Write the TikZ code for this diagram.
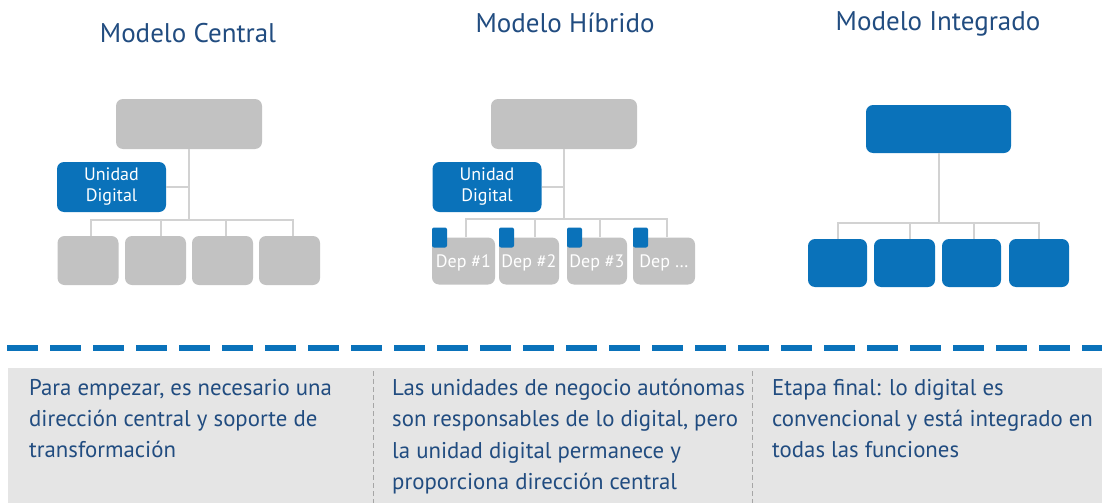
\documentclass[tikz,border=0pt]{standalone}
\usepackage{fontspec}
\setmainfont{PT Sans}
\usepackage{tikz}
\usetikzlibrary{positioning}

\definecolor{orgblue}{HTML}{0A72BA}
\definecolor{orggray}{HTML}{C2C2C2}
\definecolor{linegray}{HTML}{D2D2D2}
\definecolor{panelgray}{HTML}{E5E5E5}
\definecolor{textnavy}{HTML}{214C80}

\tikzset{
    graybox/.style={rectangle, rounded corners=7pt, fill=orggray, inner sep=0pt},
    bluebox/.style={rectangle, rounded corners=7pt, fill=orgblue, inner sep=0pt},
    unitbox/.style={bluebox, minimum width=109pt, minimum height=50pt, text=white, align=center,
        font=\fontsize{18}{21}\selectfont},
    tabbox/.style={rectangle, rounded corners=2pt, fill=orgblue, minimum width=15pt, minimum height=20pt, inner sep=0pt},
    deplabel/.style={text=white, font=\fontsize{18}{20}\selectfont},
    title/.style={text=textnavy, font=\fontsize{27}{30}\selectfont, anchor=base, inner sep=0pt},
    caption/.style={text=textnavy, font=\fontsize{22.8}{31.2}\selectfont, align=left, anchor=north west, inner sep=0pt},
    link/.style={draw=linegray, line width=2pt}
}

\begin{document}
\begin{tikzpicture}[x=1pt, y=-1pt]
        \useasboundingbox (0,0) rectangle (1102,503);

        % Titles
        \node[title] (tcentral) at (188,42) {Modelo Central};
        \node[title] (thibrido) at (565,33) {Modelo Híbrido};
        \node[title] (tintegrado) at (938,31) {Modelo Integrado};

        % Modelo Central
        \node[graybox, minimum width=146pt, minimum height=50pt] (ctop) at (189,124) {};
        \node[unitbox] (cud) at (111.5,187) {Unidad\\Digital};
        \node[graybox, minimum width=61pt, minimum height=49pt] (c1) at (88,260.5) {};
        \node[graybox, minimum width=61pt, minimum height=49pt] (c2) at (155.5,260.5) {};
        \node[graybox, minimum width=61pt, minimum height=49pt] (c3) at (222.5,260.5) {};
        \node[graybox, minimum width=61pt, minimum height=49pt] (c4) at (289.5,260.5) {};
        \coordinate (cbus) at (189,220);

        % Modelo Hibrido
        \node[graybox, minimum width=146pt, minimum height=50pt] (htop) at (564,124) {};
        \node[unitbox] (hud) at (487,187) {Unidad\\Digital};
        \node[graybox, minimum width=63pt, minimum height=47pt] (h1) at (463.5,261) {};
        \node[graybox, minimum width=60pt, minimum height=47pt] (h2) at (529,261) {};
        \node[graybox, minimum width=60pt, minimum height=47pt] (h3) at (597,261) {};
        \node[graybox, minimum width=62pt, minimum height=47pt] (h4) at (664,261) {};
        \node[deplabel] (hl1) at ([yshift=-2pt]h1.center) {Dep \#1};
        \node[deplabel] (hl2) at ([yshift=-2pt]h2.center) {Dep \#2};
        \node[deplabel] (hl3) at ([yshift=-2pt]h3.center) {Dep \#3};
        \node[deplabel] (hl4) at ([yshift=-2pt]h4.center) {Dep \dots};
        \node[tabbox, anchor=north west] (ht1) at ([yshift=10pt]h1.north west) {};
        \node[tabbox, anchor=north west] (ht2) at ([yshift=10pt]h2.north west) {};
        \node[tabbox, anchor=north west] (ht3) at ([yshift=10pt]h3.north west) {};
        \node[tabbox, anchor=north west] (ht4) at ([yshift=10pt]h4.north west) {};
        \coordinate (hbus) at (564,219);

        % Modelo Integrado
        \node[bluebox, minimum width=145pt, minimum height=48pt] (itop) at (938.5,129) {};
        \node[bluebox, minimum width=59pt, minimum height=48pt] (i1) at (837.5,263) {};
        \node[bluebox, minimum width=61pt, minimum height=48pt] (i2) at (904.5,263) {};
        \node[bluebox, minimum width=59pt, minimum height=48pt] (i3) at (971.5,263) {};
        \node[bluebox, minimum width=60pt, minimum height=48pt] (i4) at (1039,263) {};
        \coordinate (ibus) at (938.5,223);

        % Lines
        \draw[link] (ctop.south) -- (cbus);
        \draw[link] (cud.east) -| (ctop.south);
        \draw[link] ([xshift=3pt]c1.north) |- (cbus);
        \draw[link] ([xshift=5pt]c2.north) |- (cbus);
        \draw[link] ([xshift=3pt]c3.north) |- (cbus);
        \draw[link] ([xshift=3pt]c4.north) |- (cbus);
        \draw[link] (htop.south) -- (hbus);
        \draw[link] (hud.east) -| (htop.south);
        \draw[link] ([xshift=2pt]h1.north) |- (hbus);
        \draw[link] ([xshift=6pt]h2.north) |- (hbus);
        \draw[link] ([xshift=3pt]h3.north) |- (hbus);
        \draw[link] ([xshift=3pt]h4.north) |- (hbus);
        \draw[link] (itop.south) -- (ibus);
        \draw[link] (i1.north) |- (ibus);
        \draw[link] ([xshift=5pt]i2.north) |- (ibus);
        \draw[link] ([xshift=2pt]i3.north) |- (ibus);
        \draw[link] (i4.north) |- (ibus);

        % Bottom panel
        \fill[panelgray] (8,368) rectangle (1102,503);
        \coordinate (dashstart) at (7,348);
        \coordinate (dashend) at (1102,348);
        \draw[orgblue, line width=5.5pt, dash pattern=on 31pt off 12pt] (dashstart) -- (dashend);
        \coordinate (divatop) at (373,371);
        \coordinate (divabot) at (373,503);
        \coordinate (divbtop) at (752,371);
        \coordinate (divbbot) at (752,503);
        \draw[gray!70, line width=0.8pt, dash pattern=on 5pt off 3pt] (divatop) -- (divabot);
        \draw[gray!70, line width=0.8pt, dash pattern=on 5pt off 3pt] (divbtop) -- (divbbot);

        % Texts
        \node[caption] (textcentral) at (29,379) {Para empezar, es necesario una\\dirección central y soporte de\\transformación};
        \node[caption] (texthibrido) at (392,379) {Las unidades de negocio autónomas\\son responsables de lo digital, pero\\la unidad digital permanece y\\proporciona dirección central};
        \node[caption] (textintegrado) at (772,379) {Etapa final: lo digital es\\convencional y está integrado en\\todas las funciones};
    \end{tikzpicture}
\end{document}
